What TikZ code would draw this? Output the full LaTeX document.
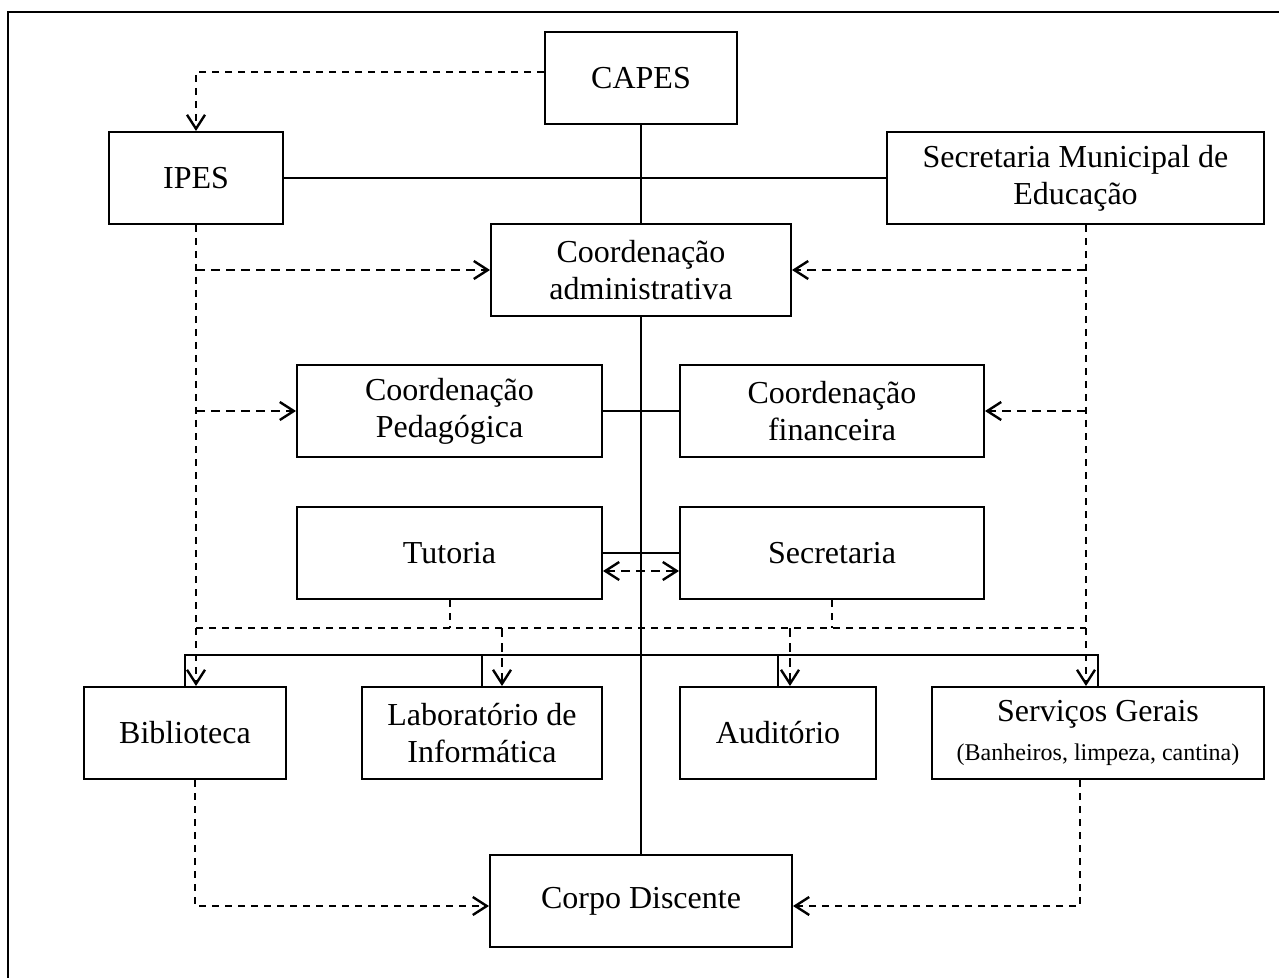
\documentclass[tikz,border=0pt]{standalone}
\usepackage{fontspec}
\setmainfont{Liberation Serif}
\usetikzlibrary{arrows.meta}
\begin{document}
\begin{tikzpicture}[x=0.5pt,y=-0.5pt,
  bx/.style={draw, line width=1pt, inner sep=0pt, align=center, minimum height=46pt,
    font=\fontsize{16}{18.4}\selectfont},
  sol/.style={line width=0.9pt},
  dsh/.style={line width=1.2pt, dash pattern=on 4.5pt off 3pt},
  dshthin/.style={line width=1pt, dash pattern=on 3.5pt off 3pt},
  tip/.style={-{Straight Barb[length=7pt,width=9pt,line width=1.2pt]}},
  tips/.style={{Straight Barb[length=7pt,width=9pt,line width=1.2pt]}-{Straight Barb[length=7pt,width=9pt,line width=1.2pt]}}
]
\useasboundingbox (0,0) rectangle (1279,978);
% frame
\draw[line width=1pt] (1290,12) -- (8,12) -- (8,990);

% boxes
\node[bx, minimum width=96pt]  (capes) at (641,78)    {CAPES};
\node[bx, minimum width=87pt]  (ipes)  at (196,178)   {IPES};
\node[bx, minimum width=188.5pt] (smed) at (1075.5,178) {Secretaria Municipal de\\Educação};
\node[bx, minimum width=150pt] (cadm)  at (641,270)   {Coordenação\\administrativa};
\node[bx, minimum width=152.5pt] (cped) at (449.5,411) {Coordenação\\Pedagógica};
\node[bx, minimum width=152pt] (cfin)  at (832,411)   {Coordenação\\financeira};
\node[bx, minimum width=152.5pt] (tut) at (449.5,553) {Tutoria};
\node[bx, minimum width=152pt] (sec)   at (832,553)   {Secretaria};
\node[bx, minimum width=101pt] (bib)   at (185,733)   {Biblioteca};
\node[bx, minimum width=120pt] (lab)   at (482,733)   {Laboratório de\\Informática};
\node[bx, minimum width=98pt]  (aud)   at (778,733)   {Auditório};
\node[bx, minimum width=166pt] (serv)  at (1098,733)  {Serviços Gerais\\[1pt]{\fontsize{12}{14}\selectfont(Banheiros,\ limpeza,\ cantina)}};
\node[bx, minimum width=151pt] (corpo) at (641,901)   {Corpo Discente};

% helper coordinates
\coordinate (mid) at (0,628);
\coordinate (bus) at (0,655);
\coordinate (R)   at (1086,0);

% solid connectors
\draw[sol] (capes.south) -- (cadm.north);
\draw[sol] (cadm.south) -- (corpo.north);
\draw[sol] (ipes.east) -- (smed.west);
\draw[sol] (cped.east) -- (cfin.west);
\draw[sol] (tut.east) -- (sec.west);
\draw[sol] (bib.north) -- (bib.north |- bus) -| (serv.north);
\draw[sol] (lab.north) -- (lab.north |- bus);
\draw[sol] (aud.north) -- (aud.north |- bus);

% dashed connectors
\draw[dshthin, tip] ([yshift=3pt]capes.west) -| (ipes.north);
\draw[dshthin, tip] (ipes.south) -- (ipes.south |- bib.north);
\draw[dsh, tip] (ipes.south |- cadm.west) -- (cadm.west);
\draw[dsh, tip] (ipes.south |- cped.west) -- (cped.west);
\draw[dshthin, tip] (smed.south -| R) -- (serv.north -| R);
\draw[dsh, tip] (R |- cadm.east) -- (cadm.east);
\draw[dsh, tip] (R |- cfin.east) -- (cfin.east);
\draw[dshthin] (ipes.south |- mid) -- (R |- mid);
\draw[dshthin] (tut.south) -- (tut.south |- mid);
\draw[dshthin] (sec.south) -- (sec.south |- mid);
\draw[dsh, tip] ([xshift=10pt]lab.north |- mid) -- ([xshift=10pt]lab.north);
\draw[dsh, tip] ([xshift=6pt]aud.north |- mid) -- ([xshift=6pt]aud.north);
\draw[dsh, tips] ([yshift=-9pt]tut.east) -- ([yshift=-9pt]sec.west);
\draw[dshthin, tip] ([xshift=5pt]bib.south) |- ([yshift=-2.5pt]corpo.west);
\draw[dshthin, tip] ([xshift=-9pt]serv.south) |- ([yshift=-2.5pt]corpo.east);
\end{tikzpicture}
\end{document}
